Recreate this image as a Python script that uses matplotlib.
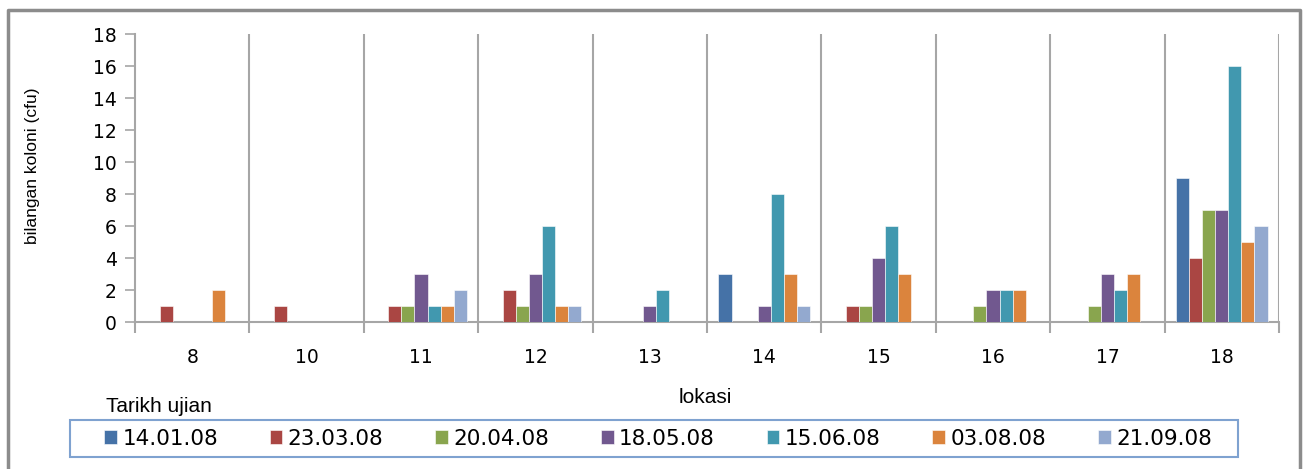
import numpy as np
import matplotlib
matplotlib.use("Agg")
import matplotlib.pyplot as plt
from matplotlib.lines import Line2D
from matplotlib.patches import Rectangle

# Colony counts per sampling location, one list per test date
locations = ["8", "10", "11", "12", "13", "14", "15", "16", "17", "18"]
dates = ["14.01.08", "23.03.08", "20.04.08", "18.05.08", "15.06.08", "03.08.08", "21.09.08"]

d_140108 = [0, 0, 0, 0, 0, 3, 0, 0, 0, 9]
d_230308 = [1, 1, 1, 2, 0, 0, 1, 0, 0, 4]
d_200408 = [0, 0, 1, 1, 0, 0, 1, 1, 1, 7]
d_180508 = [0, 0, 3, 3, 1, 1, 4, 2, 3, 7]
d_150608 = [0, 0, 1, 6, 2, 8, 6, 2, 2, 16]
d_030808 = [2, 0, 1, 1, 0, 3, 3, 2, 3, 5]
d_210908 = [0, 0, 2, 1, 0, 1, 0, 0, 0, 6]
series = [d_140108, d_230308, d_200408, d_180508, d_150608, d_030808, d_210908]

colors = ["#4572A7", "#AA4643", "#89A54E", "#71588F", "#4198AF", "#DB843D", "#93A9CF"]

W, H = 1306, 469
fig = plt.figure(figsize=(W / 100, H / 100), dpi=100)
fig.patch.set_facecolor("white")

left, right, top, bottom = 135, 1279, 34, 322
ax = fig.add_axes([left / W, 1 - bottom / H, (right - left) / W, (bottom - top) / H])

x = np.arange(len(locations))
n = len(series)
bw = 0.8 / n
for i, (vals, c, lab) in enumerate(zip(series, colors, dates)):
    ax.bar(x + (i - (n - 1) / 2) * bw, vals, width=bw, color=c, label=lab,
           edgecolor="white", linewidth=0.4, zorder=3)

ax.set_xlim(-0.5, len(locations) - 0.5)
ax.set_ylim(0, 18)
ax.set_yticks(np.arange(0, 19, 2))

grid_c = "#A6A6A6"
for s in ["top", "right"]:
    ax.spines[s].set_visible(False)
for s in ["left", "bottom"]:
    ax.spines[s].set_color(grid_c)
    ax.spines[s].set_linewidth(1.5)

ax.set_xticks(x)
ax.set_xticklabels(locations)
ax.set_xticks(np.arange(-0.5, len(locations)), minor=True)
ax.tick_params(axis="x", which="major", length=0, pad=19, labelsize=13.5)
ax.tick_params(axis="x", which="minor", length=8, width=1.5, color=grid_c, direction="out")
ax.tick_params(axis="y", length=7, width=1.2, color=grid_c, direction="out", pad=6, labelsize=13.5)
for b in np.arange(0.5, len(locations)):
    ax.axvline(b, color=grid_c, linewidth=1.5, zorder=1)

fig.text(33 / W, 1 - 166 / H, "bilangan koloni (cfu)", rotation=90, ha="center", va="center",
         fontsize=12.5, family="Liberation Sans")
fig.text(705 / W, 1 - 397 / H, "lokasi", ha="center", va="center",
         fontsize=15, family="Liberation Sans")
fig.text(106 / W, 1 - 406 / H, "Tarikh ujian", ha="left", va="center",
         fontsize=15, family="Liberation Sans")

# legend box
lx0, lx1, ly0, ly1 = 70, 1238, 420, 457
fig.add_artist(Rectangle((lx0 / W, 1 - ly1 / H), (lx1 - lx0) / W, (ly1 - ly0) / H,
                         transform=fig.transFigure, fill=False, edgecolor="#7FA2D0",
                         linewidth=1.5))
ex0, ex1 = 104, 1212
leg = fig.legend(loc="center left", ncol=n, mode="expand",
                 bbox_to_anchor=(ex0 / W, 1 - ly1 / H, (ex1 - ex0) / W, (ly1 - ly0) / H),
                 bbox_transform=fig.transFigure, frameon=False,
                 fontsize=15.5, handlelength=0.6, handleheight=0.6, handletextpad=0.25,
                 borderpad=0, borderaxespad=0, columnspacing=0.5)

# outer chart frame
fx0, fx1, fy0 = 8 / W, 1300 / W, 1 - 10 / H
fig.add_artist(Line2D([fx0, fx0, fx1, fx1], [-0.05, fy0, fy0, -0.05],
                      transform=fig.transFigure, color="#8C8C8C", linewidth=2.5))

fig.savefig("out.png", dpi=100)
